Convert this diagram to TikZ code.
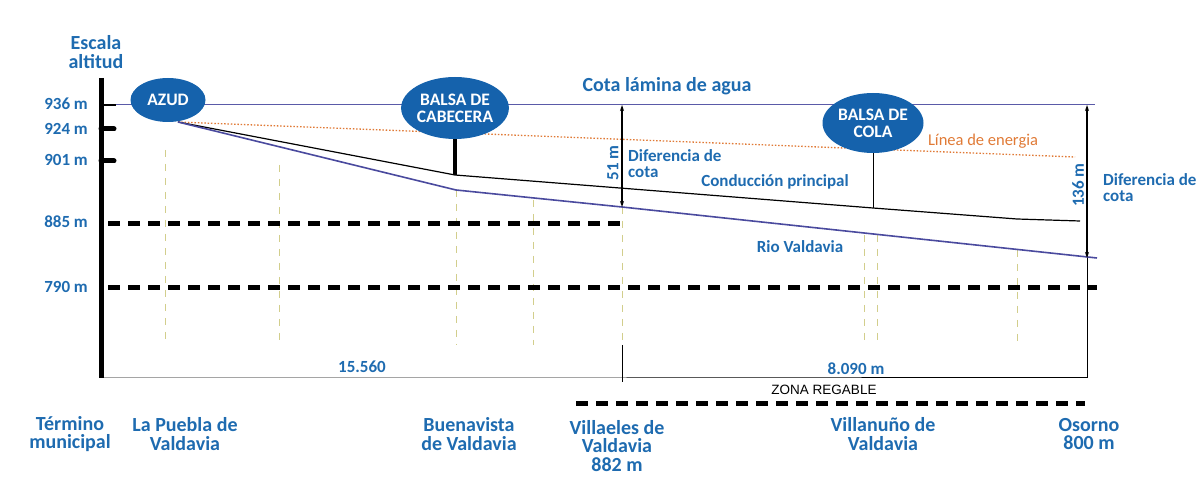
\documentclass[tikz,border=0pt]{standalone}
\usepackage{fontspec}
\setmainfont{Carlito}
\newfontfamily\arialf{Liberation Sans}
\usetikzlibrary{arrows.meta,shapes.geometric}
\definecolor{tblue}{HTML}{1E6BB0}
\definecolor{efill}{HTML}{1562AC}
\definecolor{wline}{HTML}{4A4A9E}
\definecolor{wtop}{HTML}{5A5AA8}
\definecolor{eorange}{HTML}{E07A36}
\definecolor{ydash}{HTML}{D2CE8C}
\begin{document}
\begin{tikzpicture}[x=1pt,y=-1pt,
  lbl/.style={text=tblue,font=\fontsize{17}{16}\selectfont\bfseries,align=center,inner sep=0pt},
  big/.style={text=tblue,font=\fontsize{20}{18.5}\selectfont\bfseries,align=center,inner sep=0pt},
  slbl/.style={text=tblue,font=\fontsize{17}{15}\selectfont\bfseries,inner sep=0pt,anchor=east},
  blob/.style={ellipse,fill=efill,text=white,font=\fontsize{17.5}{17}\selectfont\bfseries,align=center,inner sep=0pt},
  thickdash/.style={line width=5pt,dash pattern=on 12pt off 8pt},
  ydashed/.style={ydash,line width=1pt,dash pattern=on 7pt off 7pt},
  dimarrow/.style={line width=1.5pt,{Stealth[length=6pt,width=4pt]}-{Stealth[length=6pt,width=4pt]}},
  dimline/.style={line width=1pt}]
\useasboundingbox (0,0) rectangle (1200,502);
% coordinates
\coordinate (bartop) at (101,78);
\coordinate (barbot) at (101,378);
\coordinate (wl0) at (101,105);
\coordinate (wl1) at (1095,105);
\coordinate (src) at (178,122);
\coordinate (en1) at (1075,157);
\coordinate (c1) at (455,175);
\coordinate (c2) at (873,208);
\coordinate (c3) at (1017,219);
\coordinate (c4) at (1080,221);
\coordinate (r1) at (456,190);
\coordinate (r2) at (622,207);
\coordinate (r3) at (1097,258);
\coordinate (a51t) at (622,105);
\coordinate (a136t) at (1087,105);
\coordinate (a136b) at (1087,258);
\coordinate (d0) at (101,378);
\coordinate (d1) at (622,378);
\coordinate (d1t) at (622,345);
\coordinate (d1b) at (622,382);
\coordinate (d2) at (1087,378);
\coordinate (g885a) at (108,224);
\coordinate (g885b) at (622,224);
\coordinate (g790a) at (108,288);
\coordinate (g790b) at (1097,288);
\coordinate (zra) at (576,404);
\coordinate (zrb) at (1085,404);

% yellow dashed verticals
\foreach \x/\yt in {165/150,279/165,456/190,533/200,622/207,864/235,877/235,1017/250}
  \draw[ydashed] (\x,\yt) -- (\x,345);

% grid dashed
\draw[thickdash] (g885a) -- (g885b);
\draw[thickdash] (g790a) -- (g790b);
\draw[thickdash] (zra) -- (zrb);

% water surface line
\draw[wtop,line width=1pt] (wl0) -- (wl1);

% energy line
\draw[eorange,line width=1.3pt,dash pattern=on 1.5pt off 1.8pt] (src) -- (en1);
% main conduction
\draw[black,line width=1.2pt] (src) -- (c1) -- (c2) -- (c3) -- (c4);
% river
\draw[wline,line width=1.6pt] (src) -- (r1) -- (r2) -- (r3);

% scale bar and ticks
\draw[line width=5pt] (bartop) -- (barbot);
\draw[line width=2pt] (101,105) -- (116,105);
\draw[line width=5pt,line cap=round] (101,129) -- (114,129);
\draw[line width=5pt,line cap=round] (101,161) -- (114,161);

% nodes
\node[blob,minimum width=75pt,minimum height=44pt] (azud) at (168,100) {AZUD};
\node[blob,minimum width=103pt,minimum height=62pt] (cab) at (455,108) {BALSA DE\\CABECERA};
\node[blob,minimum width=101pt,minimum height=60pt] (cola) at (873,123) {BALSA DE\\COLA};
\draw[line width=4pt] (cab.south) -- (c1);
\draw[line width=1pt] (cola.south) -- (c2);

% dimension arrows
\draw[dimarrow] (a51t) -- (r2);
\draw[dimarrow] (a136t) -- (a136b);
\draw[dimline] (a136b) -- (d2);
\draw[dimline] (d0) -- (d1) -- (d2);
\draw[dimline] (d1t) -- (d1b);

% labels
\node[big] (esc) at (96,52) {Escala\\altitud};
\node[slbl] (l936) at (88,104) {936 m};
\node[slbl] (l924) at (88,129) {924 m};
\node[slbl] (l901) at (88,160) {901 m};
\node[slbl] (l885) at (88,222) {885 m};
\node[slbl] (l790) at (88,287) {790 m};
\node[big] (cota) at (667,86) {Cota lámina de agua};
\node[lbl,rotate=90] (m51) at (613,163) {51 m};
\node[lbl,anchor=west,align=left] (dif1) at (628,164) {Diferencia de\\cota};
\node[lbl] (cond) at (775,182) {Conducción principal};
\node[lbl] (rio) at (800,247) {Rio Valdavia};
\node[text=eorange,font=\fontsize{16.5}{15}\selectfont,inner sep=0pt] (lin) at (983,141) {Línea de energia};
\node[lbl,rotate=90] (m136) at (1078,185) {136 m};
\node[lbl,anchor=west,align=left] (dif2) at (1103,188) {Diferencia de\\cota};
\node[lbl] (k1) at (362,367) {15.560};
\node[lbl] (k2) at (856,369) {8.090 m};
\node[font=\arialf\fontsize{13.5}{13}\selectfont,inner sep=0pt] (zr) at (824,390) {ZONA REGABLE};
\node[big] (t1) at (70,434) {Término\\municipal};
\node[big] (t2) at (185,434) {La Puebla de\\Valdavia};
\node[big] (t3) at (469,434) {Buenavista\\de Valdavia};
\node[big] (t4) at (617,446) {Villaeles de\\Valdavia\\882 m};
\node[big] (t5) at (883,434) {Villanuño de\\Valdavia};
\node[big] (t6) at (1089,434) {Osorno\\800 m};
\end{tikzpicture}
\end{document}
